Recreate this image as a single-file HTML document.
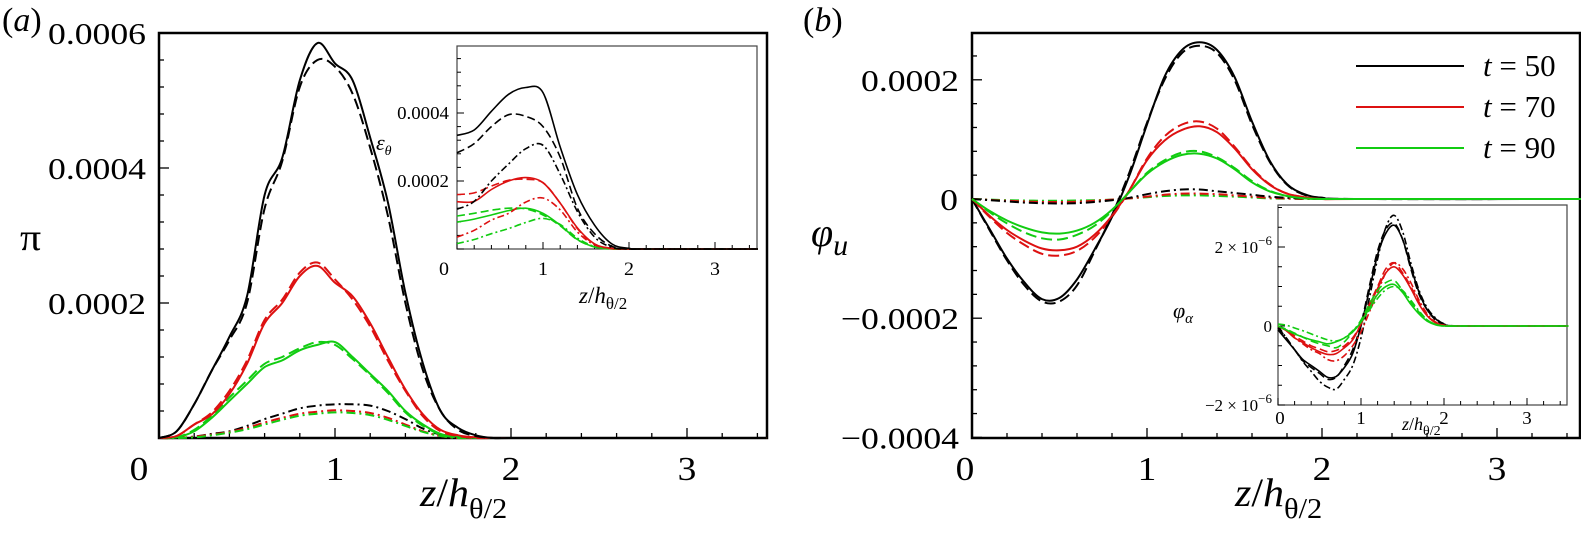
<!DOCTYPE html>
<html><head><meta charset="utf-8"><style>
html,body{margin:0;padding:0;background:#fff;}
svg, svg text, svg tspan{font-family:"Liberation Serif","DejaVu Serif",serif;}
</style></head><body>
<svg id="fig" width="1581" height="545" viewBox="0 0 1581 545" xmlns="http://www.w3.org/2000/svg" font-family="Liberation Serif, DejaVu Serif, serif">
<g id="g"></g>
</svg>
<script>
// ---- Panel (a) main: pi, units 1e-4 ----
const aX = [0,0.1,0.2,0.3,0.4,0.5,0.6,0.7,0.8,0.9,1.0,1.1,1.2,1.3,1.4,1.5,1.6,1.7,1.8,1.9,2.0,2.5,3.45];
const aBlackSolid = [0,0.1,0.5,1.0,1.5,2.1,3.6,4.15,5.3,5.85,5.55,5.3,4.45,3.5,2.15,1.1,0.4,0.15,0.04,0,0,0,0];
const aBlackDash  = [0,0.1,0.5,1.0,1.45,2.0,3.4,4.1,5.2,5.6,5.5,5.1,4.3,3.3,2.0,1.0,0.4,0.12,0.03,0,0,0,0];
const aRedSolid   = [0,0.03,0.2,0.35,0.65,1.1,1.7,2.0,2.4,2.55,2.3,2.1,1.7,1.2,0.72,0.35,0.12,0.04,0.01,0,0,0,0];
const aRedDash    = [0,0.03,0.2,0.38,0.7,1.15,1.75,2.05,2.45,2.6,2.35,2.05,1.65,1.15,0.7,0.32,0.1,0.03,0,0,0,0,0];
const aGreenSolid = [0,0.01,0.1,0.3,0.55,0.8,1.05,1.15,1.3,1.38,1.42,1.2,0.95,0.7,0.4,0.2,0.06,0.02,0,0,0,0,0];
const aGreenDash  = [0,0.01,0.12,0.33,0.6,0.85,1.1,1.2,1.33,1.42,1.38,1.17,0.93,0.67,0.38,0.18,0.05,0.01,0,0,0,0,0];
const aBlackDD    = [0,0,0.02,0.06,0.1,0.18,0.28,0.36,0.44,0.48,0.5,0.5,0.48,0.4,0.28,0.14,0.05,0.01,0,0,0,0,0];
const aRedDD      = [0,0,0.02,0.05,0.09,0.15,0.23,0.3,0.36,0.39,0.41,0.4,0.37,0.3,0.2,0.1,0.03,0,0,0,0,0,0];
const aGreenDD    = [0,0,0.01,0.04,0.08,0.13,0.2,0.27,0.33,0.36,0.38,0.37,0.34,0.27,0.18,0.09,0.03,0,0,0,0,0,0];
const aYTicks = ["0.0002","0.0004","0.0006"];
const aXTicks = ["0","1","2","3"];
// ---- Panel (a) inset: eps_theta, units 1e-4 ----
const iX = [0,0.2,0.4,0.6,0.8,1.0,1.2,1.4,1.6,1.8,2.0,2.2,3.5];
const iBlackSolid = [3.34,3.5,4.05,4.55,4.75,4.6,3.0,1.6,0.7,0.15,0.02,0,0];
const iBlackDash  = [2.83,3.1,3.6,3.95,3.9,3.6,2.7,1.2,0.45,0.08,0,0,0];
const iBlackDD    = [1.17,1.4,2.0,2.5,2.95,3.05,2.2,1.1,0.35,0.05,0,0,0];
const iRedSolid   = [1.39,1.4,1.75,2.0,2.1,1.95,1.35,0.62,0.15,0.02,0,0,0];
const iRedDash    = [1.6,1.65,1.85,2.02,2.05,1.95,1.35,0.6,0.14,0.02,0,0,0];
const iRedDD      = [0.35,0.55,0.85,1.05,1.38,1.5,1.15,0.5,0.12,0.01,0,0,0];
const iGreenSolid = [0.79,0.88,1.0,1.13,1.2,1.05,0.7,0.28,0.06,0.01,0,0,0];
const iGreenDash  = [0.97,1.05,1.14,1.2,1.18,1.0,0.68,0.27,0.06,0,0,0,0];
const iGreenDD    = [0.16,0.28,0.45,0.6,0.78,0.9,0.72,0.32,0.07,0,0,0,0];
const iYTicks = ["0.0002","0.0004"];
// ---- Panel (b) main: phi_u, units 1e-4 ----
const bX = [0,0.1,0.2,0.3,0.4,0.5,0.6,0.7,0.8,0.9,1.0,1.1,1.2,1.3,1.4,1.5,1.6,1.7,1.8,1.9,2.0,2.2,3.5];
const bBlackSolid = [0,-0.5,-1.0,-1.4,-1.68,-1.66,-1.35,-0.85,-0.3,0.4,1.25,2.05,2.5,2.63,2.5,2.05,1.3,0.65,0.25,0.08,0.02,0,0];
const bBlackDash  = [0,-0.52,-1.03,-1.45,-1.72,-1.72,-1.45,-0.88,-0.27,0.45,1.28,2.0,2.45,2.57,2.45,2.0,1.25,0.63,0.24,0.07,0.02,0,0];
const bRedSolid   = [0,-0.28,-0.52,-0.7,-0.83,-0.86,-0.8,-0.6,-0.28,0.15,0.65,0.98,1.16,1.22,1.12,0.85,0.5,0.24,0.09,0.03,0,0,0];
const bRedDash    = [0,-0.3,-0.57,-0.77,-0.92,-0.95,-0.87,-0.65,-0.3,0.15,0.68,1.05,1.25,1.3,1.18,0.88,0.52,0.25,0.09,0.03,0,0,0];
const bGreenSolid = [0,-0.2,-0.36,-0.48,-0.56,-0.58,-0.53,-0.4,-0.18,0.12,0.42,0.62,0.74,0.76,0.68,0.5,0.28,0.13,0.05,0.01,0,0,0];
const bGreenDash  = [0,-0.22,-0.41,-0.56,-0.66,-0.68,-0.6,-0.45,-0.2,0.12,0.44,0.65,0.78,0.8,0.7,0.52,0.3,0.14,0.05,0.01,0,0,0];
const bBlackDD    = [0,-0.02,-0.04,-0.06,-0.07,-0.075,-0.07,-0.05,-0.02,0.02,0.08,0.13,0.16,0.16,0.13,0.1,0.07,0.04,0.02,0.01,0,0,0];
const bRedDD      = [0,-0.015,-0.03,-0.04,-0.05,-0.05,-0.045,-0.03,-0.01,0.01,0.04,0.07,0.09,0.09,0.08,0.06,0.04,0.02,0.01,0,0,0,0];
const bGreenDD    = [0,-0.01,-0.02,-0.025,-0.03,-0.03,-0.025,-0.02,-0.01,0.01,0.03,0.05,0.06,0.06,0.05,0.04,0.025,0.01,0.005,0,0,0,0];
const bYTickVals = [2,0,-2,-4];
const bYTicks = ["0.0002","0","\u22120.0002","\u22120.0004"];
// ---- Panel (b) inset: phi_alpha, units 1e-6 ----
const pX = [0,0.1,0.2,0.3,0.4,0.5,0.6,0.7,0.8,0.9,1.0,1.1,1.2,1.3,1.4,1.5,1.6,1.7,1.8,1.9,2.0,2.2,3.5];
const pBlackSolid = [-0.1,-0.35,-0.6,-0.85,-1.0,-1.15,-1.3,-1.28,-1.05,-0.7,0,0.9,1.8,2.35,2.55,2.2,1.5,0.85,0.4,0.18,0.05,0,0];
const pBlackDash  = [-0.05,-0.3,-0.6,-0.88,-1.05,-1.2,-1.35,-1.3,-1.0,-0.6,0.05,1.0,1.9,2.45,2.6,2.2,1.45,0.8,0.4,0.15,0.04,0,0];
const pBlackDD    = [0,-0.3,-0.6,-0.9,-1.15,-1.4,-1.55,-1.6,-1.35,-1.0,-0.3,0.7,1.7,2.5,2.8,2.4,1.6,0.9,0.45,0.2,0.06,0,0];
const pRedSolid   = [0,-0.12,-0.3,-0.42,-0.55,-0.65,-0.72,-0.7,-0.55,-0.35,0.05,0.5,0.95,1.35,1.5,1.3,0.95,0.55,0.25,0.08,0.02,0,0];
const pRedDash    = [0,-0.1,-0.25,-0.38,-0.5,-0.58,-0.65,-0.62,-0.5,-0.3,0.05,0.55,1.0,1.45,1.6,1.35,1.0,0.6,0.27,0.08,0.02,0,0];
const pRedDD      = [0,-0.12,-0.3,-0.45,-0.6,-0.7,-0.85,-0.88,-0.75,-0.5,-0.15,0.35,0.85,1.35,1.6,1.45,1.1,0.65,0.3,0.1,0.02,0,0];
const pGreenSolid = [0,-0.1,-0.2,-0.28,-0.35,-0.4,-0.45,-0.4,-0.3,-0.15,0.1,0.45,0.8,1.0,1.05,0.85,0.55,0.3,0.12,0.03,0,0,0];
const pGreenDash  = [0,-0.08,-0.18,-0.28,-0.38,-0.45,-0.5,-0.55,-0.4,-0.15,0.15,0.55,0.9,1.1,1.15,0.9,0.6,0.35,0.15,0.04,0,0,0];
const pGreenDD    = [0.05,0.02,-0.05,-0.12,-0.2,-0.28,-0.35,-0.38,-0.3,-0.12,0.1,0.4,0.7,0.92,1.0,0.9,0.65,0.38,0.15,0.04,0,0,0];
const legendLabels = ["50","70","90"];

const NS = "http://www.w3.org/2000/svg";
const FONT = "Liberation Serif, DejaVu Serif, serif";
const root = document.getElementById("g");
const BLACK = "#000", RED = "#dd1111", GREEN = "#11cc11";
const DASH = "11 5", DD = "9 4 2 4";

function mk(tag, attrs, parent) {
  const e = document.createElementNS(NS, tag);
  for (const k in attrs) e.setAttribute(k, attrs[k]);
  if (tag === "text") e.setAttribute("font-family", FONT);
  (parent || root).appendChild(e);
  return e;
}
function txt(x, y, s, size, anchor, sx, parent) {
  const t = mk("text", {x: 0, y: 0, "font-size": size, "text-anchor": anchor || "start",
    transform: "translate(" + x + "," + y + ") scale(" + (sx || 1) + ",1)"}, parent);
  t.textContent = s;
  return t;
}
function axes(o) {
  return {x: v => o.x0 + v * o.xu, y: v => o.y0 - v * o.yu};
}
function drawLine(sc, xs, ys, color, dash, w, name, parent) {
  const P = xs.map((x, i) => [sc.x(x), sc.y(ys[i])]);
  let d = "M" + P[0][0].toFixed(1) + "," + P[0][1].toFixed(1);
  for (let i = 0; i < P.length - 1; i++) {
    const p0 = P[Math.max(0, i - 1)], p1 = P[i], p2 = P[i + 1], p3 = P[Math.min(P.length - 1, i + 2)];
    const c1 = [p1[0] + (p2[0] - p0[0]) / 6, p1[1] + (p2[1] - p0[1]) / 6];
    const c2 = [p2[0] - (p3[0] - p1[0]) / 6, p2[1] - (p3[1] - p1[1]) / 6];
    d += "C" + c1[0].toFixed(1) + "," + c1[1].toFixed(1) + " " + c2[0].toFixed(1) + "," + c2[1].toFixed(1) + " " + p2[0].toFixed(1) + "," + p2[1].toFixed(1);
  }
  const p = mk("path", {d: d, fill: "none", stroke: color, "stroke-width": w, "stroke-linejoin": "round"}, parent);
  if (dash) p.setAttribute("stroke-dasharray", dash);
  
  
  return p;
}
function frame(l, t, r, b, w, name, stroke) {
  const f = mk("rect", {x: l, y: t, width: r - l, height: b - t, fill: "#fff", stroke: stroke || "#000", "stroke-width": w});
  
  
}
function ticksX(sc, xmax, step, major, b, lenMaj, lenMin, w) {
  for (let v = 0; v <= xmax + 1e-9; v += step) {
    const isMaj = Math.abs(v / major - Math.round(v / major)) < 1e-6;
    const x = sc.x(v);
    mk("line", {x1: x, x2: x, y1: b, y2: b - (isMaj ? lenMaj : lenMin), stroke: "#000", "stroke-width": w});
  }
}
function ticksY(sc, vmin, vmax, step, major, l, lenMaj, lenMin, w) {
  const n0 = Math.ceil(vmin / step - 1e-9), n1 = Math.floor(vmax / step + 1e-9);
  for (let n = n0; n <= n1; n++) {
    const v = n * step;
    const isMaj = Math.abs(v / major - Math.round(v / major)) < 1e-6;
    const y = sc.y(v);
    mk("line", {x1: l, x2: l + (isMaj ? lenMaj : lenMin), y1: y, y2: y, stroke: "#000", "stroke-width": w});
  }
}
function xTitle(x, y, size, sub) {
  const t = mk("text", {x: 0, y: 0, "font-size": size, transform: "translate(" + x + "," + y + ") scale(1.05,1)"});
  
  
  t.innerHTML = '<tspan font-style="italic">z</tspan>/<tspan font-style="italic">h</tspan><tspan font-size="' + sub + '" dy="' + (size * 0.3) + '">θ/2</tspan>';
  return t;
}

// ================= Panel (a) =================
const A = axes({x0: 159, xu: 176, y0: 438, yu: 67.5});
frame(159, 33, 767, 438, 2.5, "panel-a-frame");
ticksX(A, 3.45, 0.2, 1, 438, 10, 5, 1.3);
ticksY(A, 0, 6, 0.4, 2, 159, 10, 5, 1.3);
aYTicks.forEach((s, i) => { const t = txt(146, A.y((i + 1) * 2) + 11, s, 31, "end", 1.15);   });
aXTicks.forEach((s, i) => { const t = txt(i === 0 ? 139 : A.x(i), 480, s, 34, "middle", 1.1);   });
drawLine(A, aX, aBlackDD, BLACK, DD, 2, "a-black-dashdot");
drawLine(A, aX, aRedDD, RED, DD, 2, "a-red-dashdot");
drawLine(A, aX, aGreenDD, GREEN, DD, 2, "a-green-dashdot");
drawLine(A, aX, aGreenDash, GREEN, DASH, 2, "a-green-dashed");
drawLine(A, aX, aGreenSolid, GREEN, null, 2, "a-green-solid");
drawLine(A, aX, aRedDash, RED, DASH, 2, "a-red-dashed");
drawLine(A, aX, aRedSolid, RED, null, 2, "a-red-solid");
drawLine(A, aX, aBlackDash, BLACK, DASH, 2, "a-black-dashed");
drawLine(A, aX, aBlackSolid, BLACK, null, 2, "a-black-solid");
{ const t = mk("text", {x: 2, y: 31, "font-size": 34}); t.innerHTML = '(<tspan font-style="italic">a</tspan>)';   }
{ const t = txt(20, 250, "π", 38, "start", 1.1);   }
xTitle(420, 506, 40, 29);

// ---- inset (a) ----
const I = axes({x0: 457, xu: 86, y0: 249, yu: 34});
frame(457, 46, 757, 249, 1.2, "inset-a-frame", "#444");
ticksX(I, 3.5, 0.2, 1, 249, 7, 4, 1);
ticksY(I, 0, 5.9, 0.4, 2, 457, 7, 4, 1);
iYTicks.forEach((s, i) => { const t = txt(449, I.y((i + 1) * 2) + 6, s, 18, "end", 1.05);   });
aXTicks.forEach((s, i) => { const t = txt(i === 0 ? 444 : I.x(i), 275, s, 19, "middle", 1.05);   });
drawLine(I, iX, iGreenDD, GREEN, "7 3 2 3", 1.6, "ia-green-dashdot");
drawLine(I, iX, iGreenDash, GREEN, "8 4", 1.6, "ia-green-dashed");
drawLine(I, iX, iGreenSolid, GREEN, null, 1.6, "ia-green-solid");
drawLine(I, iX, iRedDD, RED, "7 3 2 3", 1.6, "ia-red-dashdot");
drawLine(I, iX, iRedDash, RED, "8 4", 1.6, "ia-red-dashed");
drawLine(I, iX, iRedSolid, RED, null, 1.6, "ia-red-solid");
drawLine(I, iX, iBlackDD, BLACK, "7 3 2 3", 1.6, "ia-black-dashdot");
drawLine(I, iX, iBlackDash, BLACK, "8 4", 1.6, "ia-black-dashed");
drawLine(I, iX, iBlackSolid, BLACK, null, 1.6, "ia-black-solid");
{ const t = mk("text", {x: 376, y: 150, "font-size": 22}); t.innerHTML = '<tspan font-style="italic">ε</tspan><tspan font-style="italic" font-size="14" dy="5">θ</tspan>';   }
{ const t = mk("text", {x: 579, y: 303, "font-size": 23}); t.innerHTML = '<tspan font-style="italic">z</tspan>/<tspan font-style="italic">h</tspan><tspan font-size="17" dy="6">θ/2</tspan>';   }

// ================= Panel (b) =================
const B = axes({x0: 972, xu: 175, y0: 199, yu: 59.6});
frame(972, 33, 1580, 438, 2.5, "panel-b-frame");
ticksX(B, 3.47, 0.2, 1, 438, 10, 5, 1.3);
ticksY(B, -4, 2.7, 0.4, 2, 972, 10, 5, 1.3);
bYTicks.forEach((s, i) => { const t = txt(i === 1 ? 958 : 959, B.y(bYTickVals[i]) + 11, s, 31, "end", 1.15);   });
aXTicks.forEach((s, i) => { const t = txt(i === 0 ? 965 : B.x(i), 480, s, 34, "middle", 1.1);   });
drawLine(B, bX, bGreenDD, GREEN, DD, 2, "b-green-dashdot");
drawLine(B, bX, bRedDD, RED, DD, 2, "b-red-dashdot");
drawLine(B, bX, bBlackDD, BLACK, DD, 2, "b-black-dashdot");
drawLine(B, bX, bGreenDash, GREEN, DASH, 2, "b-green-dashed");
drawLine(B, bX, bRedDash, RED, DASH, 2, "b-red-dashed");
drawLine(B, bX, bBlackDash, BLACK, DASH, 2, "b-black-dashed");
drawLine(B, bX, bBlackSolid, BLACK, null, 2, "b-black-solid");
drawLine(B, bX, bRedSolid, RED, null, 2, "b-red-solid");
drawLine(B, bX, bGreenSolid, GREEN, null, 2, "b-green-solid");
{ const t = mk("text", {x: 803, y: 31, "font-size": 34}); t.innerHTML = '(<tspan font-style="italic">b</tspan>)';   }
{ const t = mk("text", {x: 811, y: 246, "font-size": 40}); t.innerHTML = '<tspan font-style="italic">φ</tspan><tspan font-style="italic" font-size="30" dy="9">u</tspan>';   }
xTitle(1235, 506, 40, 29);

// legend
const legColors = [BLACK, RED, GREEN];
legendLabels.forEach((s, i) => {
  const y = 66 + i * 41;
  const l = mk("line", {x1: 1356, x2: 1464, y1: y, y2: y, stroke: legColors[i], "stroke-width": 2});
  
  
  const t = mk("text", {x: 1483, y: y + 10, "font-size": 31});
  t.innerHTML = '<tspan font-style="italic">t</tspan> = ' + s;
  
  
});

// ---- inset (b) ----
const P = axes({x0: 1278, xu: 83, y0: 326, yu: 39.5});
frame(1278, 205, 1567, 405, 1.2, "inset-b-frame", "#444");
ticksX(P, 3.5, 0.2, 1, 405, 7, 4, 1);
ticksY(P, -2, 3.05, 0.5, 2, 1278, 7, 4, 1);
[["2 × 10", "−6", 2], ["0", "", 0], ["−2 × 10", "−6", -2]].forEach(a => {
  const t = mk("text", {x: 1272, y: P.y(a[2]) + 6, "font-size": 17, "text-anchor": "end"});
  t.innerHTML = a[0] + (a[1] ? '<tspan font-size="13" dy="-8">' + a[1] + '</tspan>' : '');
  
  
});
aXTicks.forEach((s, i) => { const t = txt(i === 0 ? 1280 : P.x(i), 424, s, 18, "middle", 1.05);   });
drawLine(P, pX, pBlackDD, BLACK, "7 3 2 3", 1.6, "ib-black-dashdot");
drawLine(P, pX, pBlackDash, BLACK, "8 4", 1.6, "ib-black-dashed");
drawLine(P, pX, pBlackSolid, BLACK, null, 1.6, "ib-black-solid");
drawLine(P, pX, pRedDD, RED, "7 3 2 3", 1.6, "ib-red-dashdot");
drawLine(P, pX, pRedDash, RED, "8 4", 1.6, "ib-red-dashed");
drawLine(P, pX, pRedSolid, RED, null, 1.6, "ib-red-solid");
drawLine(P, pX, pGreenDD, GREEN, "7 3 2 3", 1.6, "ib-green-dashdot");
drawLine(P, pX, pGreenDash, GREEN, "8 4", 1.6, "ib-green-dashed");
drawLine(P, pX, pGreenSolid, GREEN, null, 1.6, "ib-green-solid");
{ const t = mk("text", {x: 1173, y: 318, "font-size": 22}); t.innerHTML = '<tspan font-style="italic">φ</tspan><tspan font-style="italic" font-size="15" dy="5">α</tspan>';   }
{ const t = mk("text", {x: 1402, y: 430, "font-size": 18}); t.innerHTML = '<tspan font-style="italic">z</tspan>/<tspan font-style="italic">h</tspan><tspan font-size="14" dy="5">θ/2</tspan>';   }
</script>
</body></html>
